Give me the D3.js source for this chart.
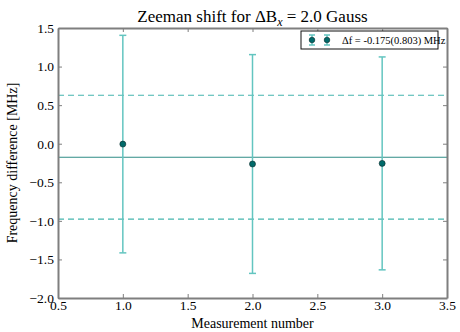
<!DOCTYPE html>
<html>
<head>
<meta charset="utf-8">
<script src="https://cdn.jsdelivr.net/npm/d3@7"></script>
<style>
  body { margin: 0; background: #fff; }
  text { font-family: "Liberation Serif", "DejaVu Serif", serif; }
</style>
</head>
<body>
<div id="chart"></div>
<script>
const measurements = [1, 2, 3];
const freqDiff = [-0.005, -0.263, -0.255];
const freqErr = [1.41, 1.418, 1.38];
const meanShift = -0.175;
const stdShift = 0.803;
const xTicks = [0.5, 1.0, 1.5, 2.0, 2.5, 3.0, 3.5];
const yTicks = [-2.0, -1.5, -1.0, -0.5, 0.0, 0.5, 1.0, 1.5];

const width = 460, height = 332;
const margin = {top: 28, right: 13, bottom: 34, left: 58};

const errColor = "#63c5c0";
const dotColor = "#006a6a";
const lineColor = "#2f8c86";
const dashColor = "#45b5ae";
const frameColor = "#7f7f7f";

const svg = d3.select("#chart")
    .append("svg")
    .attr("width", width)
    .attr("height", height);

const x = d3.scaleLinear()
    .domain([0.5, 3.5])
    .range([margin.left, width - margin.right]);

const y = d3.scaleLinear()
    .domain([-2.0, 1.5])
    .range([height - margin.bottom, margin.top]);

const fmt = d => d3.format(".1f")(d).replace("-", "\u2212");

// mean and +/- std lines
svg.append("line")
    .attr("x1", x(0.5)).attr("x2", x(3.5))
    .attr("y1", y(meanShift)).attr("y2", y(meanShift))
    .attr("stroke", lineColor).attr("stroke-width", 1.1);

[meanShift + stdShift, meanShift - stdShift].forEach(v => {
    svg.append("line")
        .attr("x1", x(0.5)).attr("x2", x(3.5))
        .attr("y1", y(v)).attr("y2", y(v))
        .attr("stroke", dashColor).attr("stroke-width", 1.2)
        .attr("stroke-dasharray", "6,4");
});

// error bars
const bars = svg.selectAll("g.err")
    .data(measurements)
    .enter()
    .append("g")
    .attr("class", "err");

bars.append("line")
    .attr("x1", d => x(d)).attr("x2", d => x(d))
    .attr("y1", (d, i) => y(freqDiff[i] + freqErr[i]))
    .attr("y2", (d, i) => y(freqDiff[i] - freqErr[i]))
    .attr("stroke", errColor).attr("stroke-width", 1.5);

[1, -1].forEach(s => {
    bars.append("line")
        .attr("x1", d => x(d) - 3.5).attr("x2", d => x(d) + 3.5)
        .attr("y1", (d, i) => y(freqDiff[i] + s * freqErr[i]))
        .attr("y2", (d, i) => y(freqDiff[i] + s * freqErr[i]))
        .attr("stroke", errColor).attr("stroke-width", 1.5);
});

bars.append("circle")
    .attr("cx", d => x(d))
    .attr("cy", (d, i) => y(freqDiff[i]))
    .attr("r", 3)
    .attr("fill", dotColor)
    .attr("stroke", "#0a2a2a").attr("stroke-width", 0.6);

// axes: ticks inward on all four sides
const tickLen = 4;
const axisB = d3.axisBottom(x).tickValues(xTicks).tickFormat(fmt).tickSizeInner(-tickLen).tickSizeOuter(0).tickPadding(4);
const axisT = d3.axisTop(x).tickValues(xTicks).tickFormat("").tickSizeInner(-tickLen).tickSizeOuter(0);
const axisL = d3.axisLeft(y).tickValues(yTicks).tickFormat(fmt).tickSizeInner(-tickLen).tickSizeOuter(0).tickPadding(4);
const axisR = d3.axisRight(y).tickValues(yTicks).tickFormat("").tickSizeInner(-tickLen).tickSizeOuter(0);

const gB = svg.append("g").attr("transform", `translate(0,${height - margin.bottom})`).call(axisB);
const gT = svg.append("g").attr("transform", `translate(0,${margin.top})`).call(axisT);
const gL = svg.append("g").attr("transform", `translate(${margin.left},0)`).call(axisL);
const gR = svg.append("g").attr("transform", `translate(${width - margin.right},0)`).call(axisR);

[gB, gT, gL, gR].forEach(g => {
    g.select(".domain").attr("stroke", frameColor).attr("stroke-width", 2);
    g.selectAll(".tick line").attr("stroke", frameColor).attr("stroke-width", 1);
    g.selectAll(".tick text")
        .attr("fill", "#000")
        .style("font-size", "13.5px")
        .style("font-family", "Liberation Serif, serif");
});
gB.selectAll(".tick text").attr("dy", "0.6em");

// titles
const title = svg.append("text")
    .attr("x", (x(0.5) + x(3.5)) / 2)
    .attr("y", 22)
    .attr("text-anchor", "middle")
    .attr("fill", "#000")
    .style("font-size", "17px");
title.append("tspan").text("Zeeman shift for \u0394B");
title.append("tspan").attr("dy", 4).style("font-size", "12px").style("font-style", "italic").text("x");
title.append("tspan").attr("dy", -4).text(" = 2.0 Gauss");

svg.append("text")
    .attr("x", (x(0.5) + x(3.5)) / 2)
    .attr("y", 328)
    .attr("text-anchor", "middle")
    .attr("fill", "#000")
    .style("font-size", "14px")
    .text("Measurement number");

svg.append("text")
    .attr("transform", `translate(17,${(y(-2) + y(1.5)) / 2}) rotate(-90)`)
    .attr("text-anchor", "middle")
    .attr("fill", "#000")
    .style("font-size", "14px")
    .text("Frequency difference [MHz]");

// legend
const lg = svg.append("g").attr("transform", "translate(301,31)");
lg.append("rect")
    .attr("width", 137).attr("height", 18)
    .attr("fill", "#fff")
    .attr("stroke", "#111").attr("stroke-width", 1);
[11, 26].forEach(cx => {
    lg.append("line").attr("x1", cx).attr("x2", cx).attr("y1", 4).attr("y2", 14)
        .attr("stroke", errColor).attr("stroke-width", 1.5);
    [4, 14].forEach(cy => lg.append("line").attr("x1", cx - 3).attr("x2", cx + 3).attr("y1", cy).attr("y2", cy)
        .attr("stroke", errColor).attr("stroke-width", 1.5));
    lg.append("circle").attr("cx", cx).attr("cy", 9).attr("r", 2.8)
        .attr("fill", dotColor).attr("stroke", "#0a2a2a").attr("stroke-width", 0.6);
});
lg.append("text")
    .attr("x", 41).attr("y", 13)
    .attr("fill", "#000")
    .style("font-size", "10.5px")
    .text("\u0394f = -0.175(0.803) MHz");
</script>
</body>
</html>
